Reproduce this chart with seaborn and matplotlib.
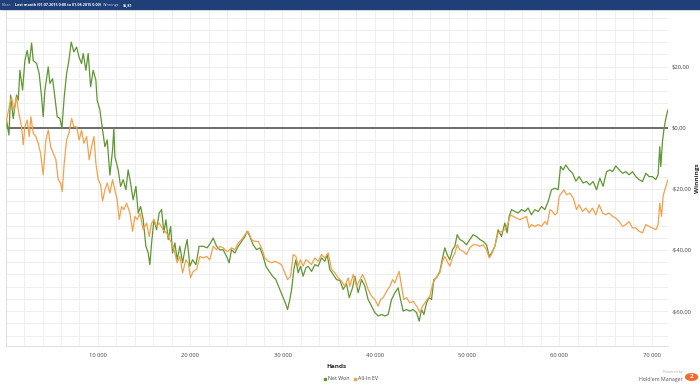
import matplotlib.pyplot as plt
import numpy as np
import pandas as pd
import seaborn as sns
from matplotlib.lines import Line2D
from matplotlib.patches import Circle, Rectangle
from matplotlib.ticker import FuncFormatter, MultipleLocator

# Net Won curve (hands, winnings in $)
net_hands = [
    0, 100, 360, 540, 820, 1190, 1370, 1550, 1840, 2090, 2340, 2560, 2820, 2990, 3360,
    3640, 3900, 4070, 4260, 4620, 4800, 5090, 5340, 5590, 5880, 6100, 6350, 6610, 6860,
    7110, 7400, 7690, 7970, 8230, 8410, 8700, 8950, 9210, 9490, 9780, 9920, 10220, 10510,
    10760, 11010, 11300, 11590, 11730, 11840, 12200, 12460, 12740, 13030, 13280, 13540,
    13820, 14120, 14370, 14630, 14910, 15200, 15450, 15630, 15820, 16070, 16360, 16640,
    16900, 17150, 17370, 17620, 17880, 18090, 18340, 18590, 18880, 19180, 19430, 19670,
    19970, 20260, 20620, 20970, 21410, 21840, 22210, 22490, 22860, 23220, 23570, 23940,
    24220, 24480, 24840, 25200, 25570, 25930, 26170, 26470, 26820, 27190, 27550, 27910,
    28200, 28560, 28930, 29280, 29640, 30010, 30370, 30550, 30800, 30990, 31230, 31450,
    31700, 31960, 32240, 32530, 32780, 33150, 33510, 33870, 34230, 34590, 34840, 35130,
    35490, 35860, 36220, 36580, 36940, 37230, 37590, 37840, 38200, 38570, 38930, 39280,
    39650, 40010, 40370, 40740, 41090, 41450, 41820, 42180, 42530, 42790, 43080, 43440,
    43800, 44160, 44530, 44810, 45070, 45320, 45610, 45890, 46150, 46400, 46690, 47050,
    47340, 47590, 47840, 48130, 48430, 48680, 48930, 49220, 49580, 49940, 50300, 50660,
    51030, 51390, 51750, 52110, 52400, 52650, 53010, 53370, 53730, 54090, 54340, 54560,
    54820, 55180, 55540, 55900, 56260, 56620, 56980, 57340, 57700, 58070, 58430, 58790,
    59150, 59510, 59870, 60130, 60410, 60700, 61060, 61430, 61790, 62140, 62580, 62940,
    63300, 63660, 64030, 64390, 64740, 65110, 65470, 65760, 66120, 66480, 66850, 67200,
    67560, 67930, 68290, 68640, 69010, 69370, 69730, 70090, 70450, 70700, 70880, 70990,
    71170, 71320, 71500, 71670, 71750,
]
net_won = [
    0.0, 2.5, -2.4, 10.7, 3.0, 10.7, 9.0, 18.8, 12.3, 22.0, 25.3, 21.0, 27.7, 22.0, 21.0,
    17.7, 10.0, 3.6, 12.3, 19.9, 14.5, 16.0, 10.0, 3.6, 3.0, -0.2, 10.0, 17.7, 22.0,
    28.0, 24.8, 26.4, 23.0, 21.0, 24.3, 18.8, 24.3, 13.4, 18.8, 15.6, 9.0, 5.8, -0.8,
    -6.2, -4.0, -15.5, -7.3, -0.2, -9.5, -13.8, -19.2, -17.0, -20.3, -13.8, -18.1,
    -23.6, -19.2, -27.9, -25.8, -30.1, -38.8, -41.0, -44.8, -37.7, -30.1, -33.4, -27.9,
    -26.8, -34.4, -30.1, -36.6, -32.3, -41.0, -37.7, -43.2, -38.8, -44.2, -39.9, -36.6,
    -45.3, -43.2, -44.8, -38.8, -38.8, -39.3, -37.7, -36.1, -38.8, -40.0, -39.9, -42.1,
    -44.2, -39.9, -41.0, -38.8, -37.2, -35.6, -33.9, -35.6, -38.3, -39.9, -39.3, -42.1,
    -45.3, -47.0, -48.6, -49.7, -52.4, -55.1, -57.8, -59.5, -56.2, -52.9, -46.4, -43.2,
    -47.5, -45.3, -48.6, -45.9, -45.3, -47.0, -44.8, -45.3, -42.6, -43.7, -41.5, -46.4,
    -48.0, -49.7, -50.0, -52.9, -51.0, -55.6, -52.4, -48.6, -54.0, -49.7, -51.9, -56.2,
    -58.4, -60.5, -61.6, -61.1, -61.6, -61.1, -56.2, -54.0, -52.4, -56.2, -60.0, -59.5,
    -60.0, -59.5, -60.5, -63.3, -59.5, -61.1, -57.3, -55.6, -56.2, -49.7, -49.1, -47.0,
    -42.6, -39.3, -41.5, -43.2, -39.9, -38.8, -35.0, -36.6, -37.2, -38.3, -36.6, -35.0,
    -35.6, -36.6, -37.2, -38.3, -42.1, -41.0, -38.8, -33.4, -35.6, -31.2, -34.4, -29.0,
    -26.8, -27.4, -27.9, -26.8, -27.4, -26.3, -28.5, -26.8, -27.4, -25.8, -26.8, -24.1,
    -20.3, -19.8, -20.3, -12.7, -13.8, -12.2, -13.8, -14.9, -17.5, -16.0, -18.1, -17.6,
    -18.7, -17.6, -20.3, -16.5, -19.2, -14.4, -13.8, -14.4, -12.5, -13.8, -14.9, -14.4,
    -15.4, -14.4, -16.0, -17.0, -17.6, -14.9, -16.0, -16.0, -17.0, -15.4, -6.2, -12.7,
    -4.6, -0.8, 2.5, 4.7, 5.81,
]

# All-In EV curve
ev_hands = [
    0, 100, 470, 650, 900, 1190, 1370, 1550, 1730, 1910, 2090, 2340, 2560, 2740, 2990,
    3280, 3530, 3790, 4070, 4370, 4620, 4880, 5160, 5450, 5700, 5960, 6130, 6350, 6610,
    6860, 7150, 7400, 7690, 7970, 8230, 8480, 8780, 9060, 9320, 9570, 9780, 10030, 10290,
    10510, 10760, 11010, 11300, 11590, 11840, 12090, 12310, 12570, 12820, 13110, 13470,
    13760, 14010, 14260, 14550, 14910, 15280, 15560, 15820, 16070, 16360, 16640, 17070,
    17440, 17800, 18160, 18590, 18880, 19180, 19530, 19780, 20040, 20320, 20690, 21050,
    21410, 21780, 22130, 22490, 22860, 23220, 23570, 23940, 24120, 24480, 24840, 25200,
    25570, 25930, 26280, 26650, 27010, 27370, 27730, 28090, 28450, 28820, 29180, 29530,
    29900, 30260, 30550, 30880, 31160, 31450, 31700, 31960, 32240, 32530, 32780, 33150,
    33510, 33870, 34230, 34590, 34950, 35320, 35680, 36030, 36400, 36760, 37120, 37300,
    37660, 38030, 38390, 38680, 38930, 39280, 39650, 40010, 40370, 40630, 40910, 41280,
    41640, 41930, 42180, 42430, 42640, 42900, 43150, 43440, 43800, 44160, 44530, 44890,
    45180, 45430, 45680, 45970, 46260, 46510, 46760, 47050, 47340, 47590, 47840, 48130,
    48430, 48680, 48930, 49220, 49580, 49940, 50300, 50660, 51030, 51390, 51750, 52110,
    52400, 52650, 53010, 53370, 53730, 54090, 54450, 54710, 54990, 55360, 55720, 56080,
    56440, 56730, 56980, 57340, 57700, 58070, 58430, 58680, 58980, 59260, 59510, 59760,
    59980, 60240, 60490, 60780, 61140, 61500, 61860, 62140, 62510, 62870, 63230, 63590,
    63950, 64310, 64680, 65040, 65400, 65760, 66120, 66480, 66850, 67200, 67560, 67930,
    68290, 68640, 69010, 69370, 69730, 70090, 70450, 70700, 70880, 71070, 71240, 71420,
    71600, 71750,
]
all_in_ev = [
    0.0, 2.5, 8.0, 10.0, 5.8, 10.0, 5.8, 3.0, 0.3, -5.6, 0.3, 2.5, -2.9, 3.6, -1.8,
    -2.9, -5.1, -8.3, -15.4, -4.0, -0.8, -6.2, -8.3, -10.5, -17.0, -18.1, -20.9, -11.6,
    -4.0, -1.8, 3.0, 0.3, 0.3, -4.0, -0.8, -5.1, -2.9, -10.5, -6.2, -2.9, -11.6, -17.0,
    -18.6, -24.0, -20.3, -18.1, -21.4, -17.0, -20.3, -23.6, -30.0, -25.8, -26.8, -24.7,
    -27.9, -33.9, -29.0, -30.1, -27.9, -33.4, -31.2, -35.6, -31.2, -30.1, -32.3, -31.2,
    -33.4, -34.4, -36.6, -38.8, -44.2, -42.1, -47.5, -43.2, -44.2, -49.1, -47.0, -46.4,
    -42.1, -42.6, -42.1, -43.2, -38.8, -39.9, -38.8, -39.3, -40.4, -40.4, -39.3, -39.9,
    -37.7, -36.6, -35.0, -33.9, -36.6, -37.2, -37.2, -39.3, -42.6, -43.7, -44.2, -43.7,
    -44.2, -44.8, -47.5, -49.7, -48.6, -41.5, -42.1, -45.3, -43.2, -45.3, -43.2, -43.7,
    -44.8, -42.6, -43.7, -41.5, -42.6, -41.0, -46.4, -47.5, -49.1, -50.2, -51.9, -49.1,
    -51.9, -48.0, -51.9, -49.7, -48.0, -49.7, -52.9, -55.1, -56.2, -58.4, -56.2, -55.6,
    -53.5, -51.9, -49.7, -50.8, -48.6, -47.0, -51.9, -56.2, -55.6, -57.3, -56.8, -58.4,
    -60.5, -58.4, -57.3, -56.2, -55.1, -51.3, -49.7, -48.6, -47.5, -43.7, -42.1, -43.7,
    -45.3, -42.6, -41.0, -38.3, -39.9, -40.4, -41.5, -39.3, -38.3, -38.3, -38.8, -38.3,
    -39.9, -42.6, -41.5, -38.8, -34.4, -33.9, -33.4, -31.2, -28.5, -29.0, -29.6, -30.1,
    -29.6, -29.0, -32.8, -31.7, -32.3, -31.7, -32.3, -30.7, -31.7, -26.8, -27.4, -28.5,
    -27.9, -22.5, -21.4, -20.3, -21.9, -21.4, -23.0, -26.8, -25.2, -27.4, -26.3, -27.9,
    -26.3, -28.5, -25.2, -27.9, -28.5, -27.9, -29.0, -29.6, -30.7, -32.3, -31.7, -30.7,
    -32.8, -32.8, -33.9, -34.4, -31.7, -32.3, -32.8, -33.4, -31.7, -24.7, -29.0, -22.5,
    -20.3, -18.7, -17.0,
]

series_names = ["Net Won", "All-In EV"]
series_colors = ["#5e9732", "#f7a04a"]

df = pd.concat(
    [
        pd.DataFrame({"hands": net_hands, "winnings": net_won, "series": series_names[0]}),
        pd.DataFrame({"hands": ev_hands, "winnings": all_in_ev, "series": series_names[1]}),
    ],
    ignore_index=True,
)

sns.set_style("white")
plt.rcParams["font.family"] = ["Open Sans", "DejaVu Sans"]

fig = plt.figure(figsize=(7.0, 3.86), dpi=100)
ax = fig.add_axes([0.008, 0.103, 0.946, 0.871])

ax.axhline(0, color="#6b6b6b", lw=1.4, zorder=1)
sns.lineplot(
    data=df, x="hands", y="winnings", hue="series", hue_order=series_names,
    palette=series_colors, estimator=None, sort=False, lw=0.9, legend=False,
    ax=ax, zorder=3,
)

ax.set_xlim(0, 71750)
ax.set_ylim(-71.5, 38.5)
ax.xaxis.set_major_locator(MultipleLocator(10000))
ax.xaxis.set_minor_locator(MultipleLocator(2000))
ax.yaxis.set_major_locator(MultipleLocator(20))
ax.yaxis.set_minor_locator(MultipleLocator(4))
ax.grid(which="both", color="#ececec", lw=0.6)
ax.set_axisbelow(True)

ax.xaxis.set_major_formatter(FuncFormatter(lambda v, _: f"{int(v):,}".replace(",", " ") if v > 0 else ""))
ax.yaxis.set_major_formatter(
    FuncFormatter(lambda v, _: ("-" if v < 0 else "") + f"${abs(v):.2f}".replace(".", ","))
)
ax.yaxis.tick_right()
ax.yaxis.set_label_position("right")
ax.tick_params(axis="x", which="both", length=0, labelsize=4.2, colors="#444444", pad=5)
ax.tick_params(axis="y", which="both", length=0, labelsize=4.2, colors="#444444", pad=3)
ax.set_xlabel("Hands", fontsize=4.6, fontweight="bold", labelpad=4)
ax.set_ylabel("Winnings", fontsize=4.6, fontweight="bold", labelpad=2, rotation=90)
for side, sp in ax.spines.items():
    sp.set_visible(side in ("left", "bottom"))
    sp.set_color("#dddddd")
    sp.set_linewidth(0.6)

# header bar, texts placed one after another
fig.patches.append(Rectangle((0, 1 - 9 / 386), 1, 9 / 386, transform=fig.transFigure,
                             color="#1f3f78", zorder=0))
hy = 1 - 4.6 / 386
renderer = fig.canvas.get_renderer()
x_pos = 0.003
header_parts = [
    ("Filter:", "#c9d3e6", "normal"),
    ("Last month (01.07.2015 0:00 to 01.08.2015 0:00)", "white", "bold"),
    ("Winnings:", "#c9d3e6", "normal"),
    ("$5,81", "white", "bold"),
]
for txt, col, weight in header_parts:
    t = fig.text(x_pos, hy, txt, color=col, fontsize=2.7, fontweight=weight, va="center")
    bb = t.get_window_extent(renderer)
    x_pos = (bb.x1 + 2.5) / fig.bbox.width

# legend
handles = [Line2D([], [], ls="none", marker="s", ms=2.0, color=c) for c in series_colors]
fig.legend(handles, series_names, loc="center", bbox_to_anchor=(0.5, 1 - 379 / 386),
           ncol=2, frameon=False, fontsize=3.8, handletextpad=0.0, handlelength=1.0,
           columnspacing=0.6, labelcolor="#444444")

# branding
fig.text(0.975, 1 - 372 / 386, "Powered by", fontsize=2.6, color="#aaaaaa", ha="right", va="center")
fig.text(0.975, 1 - 380 / 386, "Hold'em Manager", fontsize=3.8, color="#555555", ha="right", va="center")
fig.patches.append(Circle((0.988, 1 - 377 / 386), 0.0085, transform=fig.transFigure,
                          color="#f26a2e"))
fig.text(0.988, 1 - 377 / 386, "2", fontsize=4.5, color="white", fontweight="bold",
         ha="center", va="center")

fig.savefig("out.png", dpi=100)
